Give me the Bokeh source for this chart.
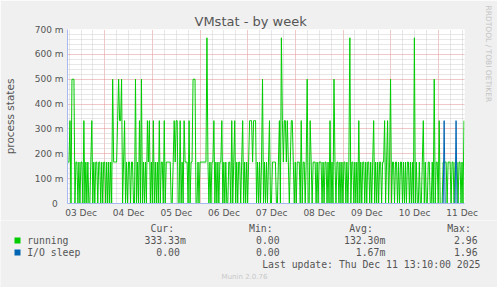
from bokeh.plotting import figure
from bokeh.models import FixedTicker, Title
from bokeh.core.properties import value
from bokeh.embed import file_html
from bokeh.resources import INLINE

# ---- data (30-minute averages, in sixths of a process) ----
start_hour = 5 + 10 / 60.0   # Dec 03 05:10 (hours since Dec 03 00:00)
step_hours = 0.5

running_sixths = [
    1, 1, 2, 0, 3, 3, 3, 0, 1, 1,
    0, 1, 0, 1, 1, 0, 2, 0, 1, 0,
    1, 0, 0, 1, 2, 0, 1, 0, 1, 1,
    0, 1, 1, 0, 1, 0, 1, 1, 0, 1,
    0, 1, 0, 1, 0, 3, 1, 1, 1, 1,
    2, 3, 2, 2, 3, 0, 1, 2, 0, 1,
    0, 1, 1, 0, 1, 1, 0, 0, 3, 0,
    1, 0, 2, 0, 3, 0, 1, 0, 1, 0,
    2, 1, 2, 0, 1, 0, 2, 0, 1, 0,
    1, 0, 2, 0, 1, 1, 0, 2, 0, 1,
    1, 1, 1, 1, 0, 0, 1, 2, 1, 2,
    2, 0, 0, 2, 0, 1, 0, 2, 1, 1,
    1, 0, 2, 0, 1, 1, 3, 3, 3, 0,
    0, 1, 0, 1, 1, 1, 1, 1, 1, 1,
    4, 1, 0, 1, 0, 1, 1, 2, 0, 1,
    0, 1, 0, 1, 1, 2, 0, 1, 0, 1,
    0, 0, 1, 1, 0, 2, 0, 1, 2, 0,
    1, 0, 1, 1, 0, 1, 2, 0, 1, 0,
    1, 0, 1, 2, 2, 2, 1, 2, 2, 2,
    0, 1, 0, 1, 0, 1, 3, 0, 1, 0,
    1, 0, 1, 2, 0, 0, 1, 1, 1, 1,
    0, 0, 1, 2, 0, 4, 2, 1, 2, 2,
    1, 2, 1, 0, 1, 2, 2, 1, 0, 1,
    0, 1, 1, 1, 0, 2, 0, 1, 1, 0,
    1, 3, 0, 0, 2, 1, 0, 1, 1, 1,
    0, 1, 0, 1, 1, 1, 0, 1, 0, 1,
    1, 0, 1, 0, 2, 0, 1, 0, 3, 1,
    0, 1, 1, 0, 1, 0, 1, 0, 1, 1,
    0, 1, 0, 1, 4, 0, 1, 1, 0, 1,
    0, 1, 0, 2, 0, 1, 0, 1, 1, 0,
    1, 0, 1, 1, 0, 1, 0, 1, 2, 0,
    1, 0, 1, 0, 1, 1, 0, 1, 1, 2,
    0, 1, 2, 0, 1, 3, 0, 1, 1, 0,
    1, 1, 0, 1, 0, 1, 1, 0, 1, 0,
    1, 0, 1, 1, 0, 1, 0, 1, 0, 4,
    0, 1, 0, 0, 1, 0, 0, 1, 2, 0,
    1, 0, 0, 1, 1, 0, 0, 1, 0, 3,
    0, 1, 1, 0, 2, 0, 0, 0, 1, 1,
    1, 1, 0, 1, 1, 1, 0, 1, 1, 0,
    1, 1, 1, 0, 1, 1, 0, 1, 0, 2,
]

io_sleep_sixths = [
    0, 0, 0, 0, 0, 0, 0, 0, 0, 0,
    0, 0, 0, 0, 0, 0, 0, 0, 0, 0,
    0, 0, 0, 0, 0, 0, 0, 0, 0, 0,
    0, 0, 0, 0, 0, 0, 0, 0, 0, 0,
    0, 0, 0, 0, 0, 0, 0, 0, 0, 0,
    0, 0, 0, 0, 0, 0, 0, 0, 0, 0,
    0, 0, 0, 0, 0, 0, 0, 0, 0, 0,
    0, 0, 0, 0, 0, 0, 0, 0, 0, 0,
    0, 0, 0, 0, 0, 0, 0, 0, 0, 0,
    0, 0, 0, 0, 0, 0, 0, 0, 0, 0,
    0, 0, 0, 0, 0, 0, 0, 0, 0, 0,
    0, 0, 0, 0, 0, 0, 0, 0, 0, 0,
    0, 0, 0, 0, 0, 0, 0, 0, 0, 0,
    0, 0, 0, 0, 0, 0, 0, 0, 0, 0,
    0, 0, 0, 0, 0, 0, 0, 0, 0, 0,
    0, 0, 0, 0, 0, 0, 0, 0, 0, 0,
    0, 0, 0, 0, 0, 0, 0, 0, 0, 0,
    0, 0, 0, 0, 0, 0, 0, 0, 0, 0,
    0, 0, 0, 0, 0, 0, 0, 0, 0, 0,
    0, 0, 0, 0, 0, 0, 0, 0, 0, 0,
    0, 0, 0, 0, 0, 0, 0, 0, 0, 0,
    0, 0, 0, 0, 0, 0, 0, 0, 0, 0,
    0, 0, 0, 0, 0, 0, 0, 0, 0, 0,
    0, 0, 0, 0, 0, 0, 0, 0, 0, 0,
    0, 0, 0, 0, 0, 0, 0, 0, 0, 0,
    0, 0, 0, 0, 0, 0, 0, 0, 0, 0,
    0, 0, 0, 0, 0, 0, 0, 0, 0, 0,
    0, 0, 0, 0, 0, 0, 0, 0, 0, 0,
    0, 0, 0, 0, 0, 0, 0, 0, 0, 0,
    0, 0, 0, 0, 0, 0, 0, 0, 0, 0,
    0, 0, 0, 0, 0, 0, 0, 0, 0, 0,
    0, 0, 0, 0, 0, 0, 0, 0, 0, 0,
    0, 0, 0, 0, 0, 0, 0, 0, 0, 0,
    0, 0, 0, 0, 0, 0, 0, 0, 0, 0,
    0, 0, 0, 0, 0, 0, 0, 0, 0, 0,
    0, 0, 0, 0, 0, 0, 0, 0, 0, 0,
    0, 0, 0, 0, 0, 0, 0, 0, 0, 0,
    0, 0, 0, 0, 0, 0, 0, 0, 0, 2,
    0, 0, 0, 0, 0, 0, 0, 0, 0, 0,
    0, 2, 0, 0, 0, 0, 0, 0, 0, 0,
]

day_labels = ["03 Dec", "04 Dec", "05 Dec", "06 Dec", "07 Dec",
              "08 Dec", "09 Dec", "10 Dec", "11 Dec"]
y_tick_values = [0, 100, 200, 300, 400, 500, 600, 700]
y_tick_labels = ["0\u00a0\u00a0", "100 m", "200 m", "300 m", "400 m",
                 "500 m", "600 m", "700 m"]

legend_names = ["running", "I/O sleep"]
legend_colors = ["#00CC00", "#0066B3"]
legend_cur = ["333.33m", "0.00"]
legend_min = ["0.00", "0.00"]
legend_avg = ["132.30m", "1.67m"]
legend_max = ["2.96", "1.96"]
legend_headers = ["Cur:", "Min:", "Avg:", "Max:"]
last_update = "Last update: Thu Dec 11 13:10:00 2025"
munin_version = "Munin 2.0.76"

# ---- derived ----
n = len(running_sixths)
xs = [start_hour + step_hours * (i + 0.5) for i in range(n)]
running = [v * 1000.0 / 6.0 for v in running_sixths]   # milli-processes
io_sleep = [v * 1000.0 / 6.0 for v in io_sleep_sixths]
x_end = start_hour + step_hours * n

W = 497
TOP_H = 220
FL, FT, FR, FB = 66, 29, 466, 203
TXT = "#555555"

p = figure(width=W, height=TOP_H, x_range=(start_hour, x_end), y_range=(0, 700),
           title="VMstat - by week",
           output_backend="svg", toolbar_location=None,
           min_border_left=FL, min_border_right=W - FR,
           min_border_top=FT, min_border_bottom=TOP_H - FB,
           background_fill_color="white", border_fill_color="#F0F0F0",
           outline_line_color=None)
p.title.align = "left"
p.title.offset = 127
p.title.text_font = "DejaVu Sans"
p.title.text_font_size = "13px"
p.title.text_font_style = "normal"
p.title.text_color = TXT
p.title.standoff = 2

spacer = Title(text="\u00a0", text_font_size="1px", standoff=9,
               text_color="#F0F0F0")
p.add_layout(spacer, "right")
side = Title(text="RRDTOOL / TOBI OETIKER", align="left", offset=-24,
             text_font="DejaVu Sans", text_font_size="7.5px",
             text_font_style="normal", text_color="#C4C4C4", standoff=10,
             vertical_align="top")
p.add_layout(side, "right")

# grids
noon_ticks = [12 + 24 * d for d in range(len(day_labels))]
midnights = [24 * d for d in range(1, 9)]
six_hours = [6 * k for k in range(1, 35) if (6 * k) % 24 != 0]
p.xgrid.ticker = FixedTicker(ticks=midnights, minor_ticks=six_hours)
p.ygrid.ticker = FixedTicker(ticks=y_tick_values,
                             minor_ticks=[v for v in range(20, 700, 20) if v % 100])
for g in (p.xgrid[0], p.ygrid[0]):
    g.grid_line_color = "#E09090"
    g.grid_line_dash = "1 1"
    g.minor_grid_line_color = "#CFCFCF"
    g.minor_grid_line_dash = "1 1"

# axes
axis_col = "#A8B8F0"
xa = p.xaxis[0]
xa.ticker = FixedTicker(ticks=noon_ticks)
xa.major_label_overrides = {t: lab for t, lab in zip(noon_ticks, day_labels)}
ya = p.yaxis[0]
ya.ticker = FixedTicker(ticks=y_tick_values)
ya.major_label_overrides = {t: lab for t, lab in zip(y_tick_values, y_tick_labels)}
for a in (xa, ya):
    a.major_tick_line_color = None
    a.minor_tick_line_color = None
    a.major_tick_out = 0
    a.major_tick_in = 0
    a.minor_tick_out = 0
    a.minor_tick_in = 0
    a.axis_line_color = axis_col
    a.major_label_text_font = "DejaVu Sans"
    a.major_label_text_font_size = "9px"
    a.major_label_text_color = TXT
xa.major_label_standoff = 4
ya.major_label_standoff = 4
ya.axis_label = "process states"
ya.axis_label_text_font = "DejaVu Sans"
ya.axis_label_text_font_size = "10.5px"
ya.axis_label_text_font_style = "normal"
ya.axis_label_text_color = TXT
ya.axis_label_standoff = 16

# series
p.line(xs, running, line_color=legend_colors[0], line_width=1)
p.line(xs, io_sleep, line_color=legend_colors[1], line_width=1)

# ---- legend strip (pixel coordinates of the lower strip) ----
LG_H = 287 - TOP_H
lg = figure(width=W, height=LG_H, x_range=(0, W), y_range=(LG_H, 0),
            output_backend="svg", toolbar_location=None,
            x_axis_type=None, y_axis_type=None,
            min_border=0, min_border_left=0, min_border_right=0,
            min_border_top=0, min_border_bottom=0,
            background_fill_color="#F0F0F0", border_fill_color="#F0F0F0",
            outline_line_color=None)
lg.grid.visible = False

mono = value("DejaVu Sans Mono")
fs = value("9.8px")
oy = TOP_H
hdr_x = [150, 248.5, 348.7, 446.7]
lg.text(x=hdr_x, y=[227.5 - oy] * 4, text=legend_headers, text_font=mono,
        text_font_size=fs, text_color=TXT, text_baseline="middle")
row_y = [240 - oy, 252 - oy]
lg.rect(x=[17, 17], y=row_y, width=6, height=6, fill_color=legend_colors,
        line_color=None)
lg.text(x=[26.7, 26.7], y=row_y, text=legend_names, text_font=mono,
        text_font_size=fs, text_color=TXT, text_baseline="middle")
cols = [(legend_cur, 185.3), (legend_min, 285.0), (legend_avg, 384.8),
        (legend_max, 483.0)]
for vals, right_edge in cols:
    shown = [v if v.endswith("m") else v + "\u00a0" for v in vals]
    lg.text(x=[right_edge, right_edge], y=row_y, text=shown, text_font=mono,
            text_font_size=fs, text_color=TXT, text_align="right",
            text_baseline="middle")
lg.text(x=[261.7], y=[263.8 - oy], text=[last_update], text_font=mono,
        text_font_size=fs, text_color=TXT, text_baseline="middle")
lg.text(x=[244], y=[276 - oy], text=[munin_version], text_font=value("DejaVu Sans"),
        text_font_size=value("7px"), text_color="#C8C8C8", text_align="center",
        text_baseline="middle")

open("out.html", "w").write(file_html([p, lg], INLINE))
